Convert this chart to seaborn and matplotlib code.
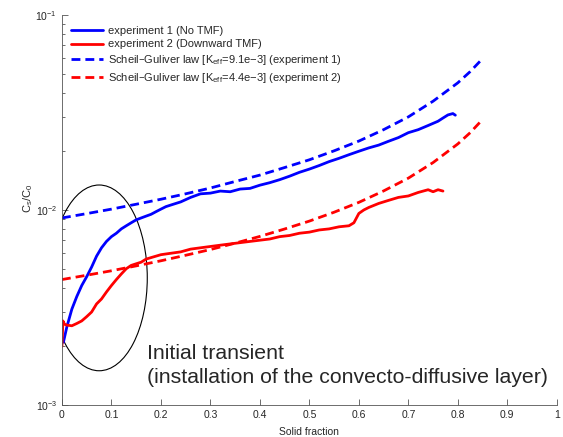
import matplotlib
matplotlib.use("Agg")
import matplotlib.pyplot as plt
from matplotlib.patches import Ellipse
import pandas as pd
import seaborn as sns

# experiment 1 (No TMF)
exp1_fs = [0.003, 0.01, 0.02, 0.03, 0.04, 0.05, 0.06, 0.07, 0.08, 0.09, 0.10, 0.11, 0.12, 0.13,
           0.14, 0.15, 0.16, 0.17, 0.18, 0.19, 0.20, 0.21, 0.22, 0.24, 0.26, 0.28, 0.30, 0.32,
           0.34, 0.36, 0.38, 0.40, 0.42, 0.44, 0.46, 0.48, 0.50, 0.52, 0.54, 0.56, 0.58, 0.60,
           0.62, 0.64, 0.66, 0.68, 0.70, 0.72, 0.74, 0.76, 0.77, 0.78, 0.79, 0.795]
exp1_cs = [0.0021, 0.00252, 0.0031, 0.0036, 0.0041, 0.00455, 0.0051, 0.0058, 0.0064, 0.0069,
           0.0073, 0.0076, 0.0080, 0.0083, 0.0086, 0.0089, 0.0091, 0.0093, 0.0095, 0.0098,
           0.0101, 0.0104, 0.0106, 0.0110, 0.0116, 0.0121, 0.0122, 0.0125, 0.0124, 0.0128,
           0.0129, 0.0134, 0.0138, 0.0143, 0.0149, 0.0156, 0.0162, 0.0169, 0.0177, 0.0184,
           0.0192, 0.0200, 0.0208, 0.0215, 0.0225, 0.0235, 0.0249, 0.0258, 0.0271, 0.0285,
           0.0296, 0.0307, 0.0312, 0.0306]

# experiment 2 (Downward TMF)
exp2_fs = [0.0, 0.002, 0.005, 0.01, 0.02, 0.03, 0.04, 0.05, 0.06, 0.07, 0.08, 0.09, 0.10, 0.11,
           0.12, 0.13, 0.14, 0.15, 0.16, 0.17, 0.18, 0.20, 0.22, 0.24, 0.26, 0.28, 0.30, 0.32,
           0.34, 0.36, 0.38, 0.40, 0.42, 0.44, 0.46, 0.48, 0.50, 0.52, 0.54, 0.56, 0.58, 0.59,
           0.60, 0.61, 0.62, 0.64, 0.66, 0.68, 0.70, 0.72, 0.74, 0.75, 0.76, 0.77]
exp2_cs = [0.0020, 0.0027, 0.0026, 0.00257, 0.00255, 0.00262, 0.0027, 0.00284, 0.0030, 0.0033,
           0.0035, 0.0038, 0.0041, 0.0044, 0.0047, 0.0050, 0.0052, 0.0053, 0.0054, 0.0056,
           0.0057, 0.0059, 0.0060, 0.0061, 0.0063, 0.0064, 0.0065, 0.0066, 0.0067, 0.0068,
           0.0069, 0.0070, 0.0071, 0.0073, 0.0074, 0.0076, 0.0077, 0.0079, 0.0080, 0.0082,
           0.0083, 0.0086, 0.0096, 0.0100, 0.0103, 0.0108, 0.0112, 0.0116, 0.0118, 0.0123,
           0.0127, 0.0124, 0.0127, 0.0125]

# Scheil-Guliver curves
law_fs = [0.0, 0.05, 0.1, 0.15, 0.2, 0.25, 0.3, 0.35, 0.4, 0.45, 0.5, 0.55, 0.6, 0.65, 0.7,
          0.75, 0.8, 0.825, 0.85]
law1_cs = [0.0091, 0.00958, 0.0101, 0.0107, 0.01135, 0.0121, 0.01296, 0.0140, 0.01509, 0.0165,
           0.01808, 0.0201, 0.02255, 0.0258, 0.0300, 0.0361, 0.04485, 0.0512, 0.0597]
law2_cs = [0.0044, 0.00463, 0.00488, 0.00517, 0.00549, 0.00586, 0.00627, 0.00676, 0.00732,
           0.00799, 0.00877, 0.00974, 0.01094, 0.01252, 0.01456, 0.0175, 0.02181, 0.0249, 0.0291]

xticks = [0, 0.1, 0.2, 0.3, 0.4, 0.5, 0.6, 0.7, 0.8, 0.9, 1]
xticklabels = ["0", "0.1", "0.2", "0.3", "0.4", "0.5", "0.6", "0.7", "0.8", "0.9", "1"]

labels = ["experiment 1 (No TMF)",
          "experiment 2 (Downward TMF)",
          "Scheil\u2013Guliver law [K$_{eff}$=9.1e\u22123] (experiment 1)",
          "Scheil\u2013Guliver law [K$_{eff}$=4.4e\u22123] (experiment 2)"]

sns.set_style("ticks")
plt.rcParams["font.family"] = ["Liberation Sans", "DejaVu Sans"]
plt.rcParams["mathtext.default"] = "regular"
plt.rcParams["xtick.direction"] = "in"
plt.rcParams["ytick.direction"] = "in"

fig = plt.figure(figsize=(5.63, 4.37), dpi=100)
ax = fig.add_axes([0.110, 0.073, 0.879, 0.893])

dash = (0, (3.2, 1.8))
sns.lineplot(x=exp1_fs, y=exp1_cs, ax=ax, color="#0000ff", lw=2, label=labels[0], estimator=None, sort=False)
sns.lineplot(x=exp2_fs, y=exp2_cs, ax=ax, color="#ff0000", lw=2, label=labels[1], estimator=None, sort=False)
sns.lineplot(x=law_fs, y=law1_cs, ax=ax, color="#0000ff", lw=2, linestyle=dash, label=labels[2], estimator=None)
sns.lineplot(x=law_fs, y=law2_cs, ax=ax, color="#ff0000", lw=2, linestyle=dash, label=labels[3], estimator=None)

ax.set_yscale("log")
ax.set_ylim(1e-3, 1e-1)
ax.set_xlim(0, 1)
ax.set_xticks(xticks)
ax.set_xticklabels(xticklabels)
ax.tick_params(axis="both", which="major", labelsize=7.5, length=4, width=0.6, color="#555555")
ax.tick_params(axis="y", which="minor", length=2.5, width=0.6, color="#555555")
ax.set_xlabel("Solid fraction", fontsize=7.5, labelpad=5)
ax.set_ylabel("C$_s$/C$_0$", fontsize=8)
ax.yaxis.set_label_coords(-0.055, 0.53)
sns.despine(ax=ax)
for s in ["left", "bottom"]:
    ax.spines[s].set_color("#555555")
    ax.spines[s].set_linewidth(0.6)

ax.legend(loc="upper left", bbox_to_anchor=(0.003, 0.992), frameon=False, fontsize=8,
          handlelength=2.9, labelspacing=0.33, borderaxespad=0.3, handletextpad=0.4)

ax.add_patch(Ellipse((0.0752, 0.326), 0.1945, 0.476, transform=ax.transAxes,
                     fill=False, edgecolor="black", lw=0.8))
ax.text(0.172, 0.156, "Initial transient\n(installation of the convecto-diffusive layer)",
        transform=ax.transAxes, fontsize=15.3, va="top", ha="left", linespacing=1.3)

fig.savefig("out.png", dpi=100)
